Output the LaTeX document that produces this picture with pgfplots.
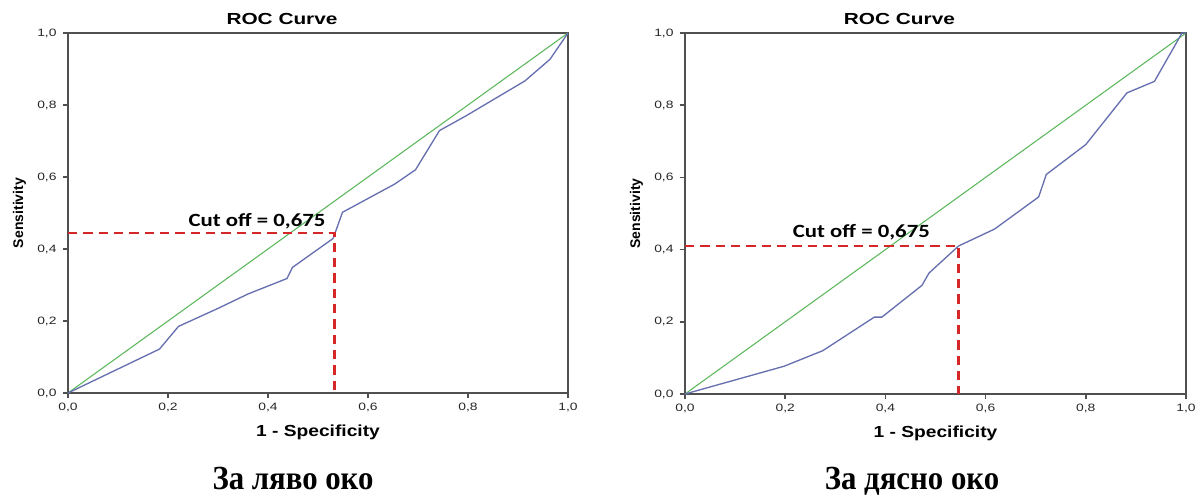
\documentclass[border=0pt]{standalone}
\usepackage{pgfplots}
\pgfplotsset{compat=1.18}
\usepackage{fontspec}
\setmainfont{Liberation Sans}
\newfontfamily\capfont{Liberation Serif}
\newfontfamily\cutfont{Carlito}
\definecolor{rocblue}{HTML}{6670B0}
\definecolor{rocgreen}{HTML}{5CB85C}
\definecolor{cutred}{HTML}{D62728}
\definecolor{axgray}{HTML}{505050}
\pgfplotsset{
  rocstyle/.style={
    scale only axis,
    xmin=0, xmax=1, ymin=0, ymax=1,
    xtick={0,0.2,0.4,0.6,0.8,1},
    ytick={0,0.2,0.4,0.6,0.8,1},
    /pgf/number format/.cd, use comma, fixed, fixed zerofill, precision=1, assume math mode=true,
    /pgfplots/.cd,
    tick align=outside,
    major tick length=4pt,
    xtick pos=bottom, ytick pos=left,
    tick style={axgray, line width=1.1pt},
    axis line style={axgray, line width=1.3pt},
    ticklabel style={font=\fontsize{8}{10}\selectfont, text=black!85, xscale=1.3},
    title style={font=\bfseries\fontsize{12}{14}\selectfont, xscale=1.3, at={(0.428,1)}, anchor=base, yshift=0pt},
    title={ROC Curve},
    xlabel={1 - Specificity},
    ylabel={Sensitivity},
    xlabel style={font=\bfseries\fontsize{12}{14}\selectfont, xscale=1.2, yshift=-3pt},
    ylabel style={font=\bfseries\fontsize{10.5}{12}\selectfont, yshift=0.5pt},
    clip=false,
  }
}
\begin{document}
\begin{tikzpicture}
\path[use as bounding box] (0,0) rectangle (900.75pt,373.5pt);
\begin{axis}[rocstyle, at={(51pt,78.75pt)}, anchor=south west, width=375pt, height=270pt]
\addplot[rocgreen, line width=0.8pt] coordinates {(0,0) (1,1)};
\addplot[rocblue, line width=1pt] coordinates {
(0,0) (0.183,0.122) (0.221,0.185) (0.30,0.235) (0.36,0.275) (0.438,0.318)
(0.449,0.349) (0.530,0.429) (0.533,0.44) (0.549,0.502) (0.653,0.58)
(0.695,0.62) (0.743,0.729) (0.795,0.769) (0.914,0.867) (0.964,0.927) (1,1)};
\addplot[cutred, line width=1.9pt, dash pattern=on 7pt off 4.5pt] coordinates {(0,0.444) (0.533,0.444) (0.533,0)};
\node[font=\cutfont\bfseries\fontsize{14}{16}\selectfont, xscale=1.22] at (axis cs:0.378,0.476) {Cut off = 0,675};
\end{axis}
\begin{axis}[rocstyle, at={(513.75pt,78pt)}, anchor=south west, width=375.75pt, height=270.75pt]
\addplot[rocgreen, line width=0.8pt] coordinates {(0,0) (1,1)};
\addplot[rocblue, line width=1pt] coordinates {
(0,0) (0.198,0.077) (0.275,0.120) (0.378,0.213) (0.393,0.213) (0.473,0.301)
(0.487,0.335) (0.546,0.41) (0.618,0.457) (0.706,0.546) (0.721,0.608)
(0.80,0.691) (0.882,0.834) (0.937,0.866) (0.992,1.0) (1,1)};
\addplot[cutred, line width=1.9pt, dash pattern=on 7pt off 4.5pt] coordinates {(0,0.41) (0.546,0.41) (0.546,0)};
\node[font=\cutfont\bfseries\fontsize{14}{16}\selectfont, xscale=1.22] at (axis cs:0.352,0.447) {Cut off = 0,675};
\end{axis}
\node[font=\capfont\bfseries\fontsize{22}{26}\selectfont, anchor=base] at (219.75pt,6pt) {\scalebox{1.05}[1.15]{За ляво око}};
\node[font=\capfont\bfseries\fontsize{22}{26}\selectfont, anchor=base] at (684pt,6pt) {\scalebox{1.05}[1.15]{За дясно око}};
\end{tikzpicture}
\end{document}
